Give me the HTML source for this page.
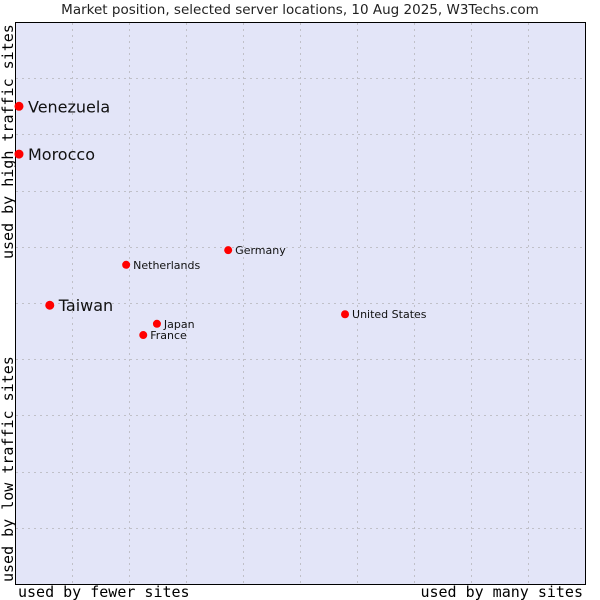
<!DOCTYPE html>
<html><head><meta charset="utf-8"><style>
body{margin:0;background:#fff;}
svg{display:block;}
</style></head><body>
<svg width="600" height="600" xmlns="http://www.w3.org/2000/svg">
<text x="300" y="14" text-anchor="middle" font-family="DejaVu Sans, sans-serif" font-size="13.5" fill="#222">Market position, selected server locations, 10 Aug 2025, W3Techs.com</text>
<rect x="15.5" y="22.5" width="570" height="562" fill="#e3e5f8" stroke="#000"/>
<g id="grid"></g>
<g id="points"></g>
<text x="18" y="597" font-family="DejaVu Sans Mono, monospace" font-size="15" fill="#000">used by fewer sites</text>
<text x="583" y="597" text-anchor="end" font-family="DejaVu Sans Mono, monospace" font-size="15" fill="#000">used by many sites</text>
<text transform="translate(13,582) rotate(-90)" font-family="DejaVu Sans Mono, monospace" font-size="15" fill="#000">used by low traffic sites</text>
<text transform="translate(13,259) rotate(-90)" font-family="DejaVu Sans Mono, monospace" font-size="15" fill="#000">used by high traffic sites</text>
</svg>
<script>
const names=["Venezuela","Morocco","Taiwan","Netherlands","Germany","Japan","France","United States"];
const xVals=[0.7,0.7,6.1,19.5,37.4,24.9,22.5,57.9];
const yVals=[85.0,76.5,49.6,56.8,59.4,46.3,44.3,48.0];
const bigLabel=[true,true,true,false,false,false,false,false];
const gridTicks=[10,20,30,40,50,60,70,80,90];
const NS="http://www.w3.org/2000/svg";
const L=15,T=22,W=570,H=562;
function sx(v){return L+v/100*W;}
function sy(v){return T+H-v/100*H;}
const g=document.getElementById('grid');
gridTicks.forEach(t=>{
 const v=document.createElementNS(NS,'line');
 v.setAttribute('x1',Math.round(sx(t))+0.5);v.setAttribute('x2',Math.round(sx(t))+0.5);
 v.setAttribute('y1',T+1);v.setAttribute('y2',T+H);
 v.setAttribute('stroke','#c0c0c8');v.setAttribute('stroke-dasharray','2,4');
 
 
 g.appendChild(v);
 const h=document.createElementNS(NS,'line');
 h.setAttribute('y1',Math.round(sy(t))+0.5);h.setAttribute('y2',Math.round(sy(t))+0.5);
 h.setAttribute('x1',L+1);h.setAttribute('x2',L+W);
 h.setAttribute('stroke','#c0c0c8');h.setAttribute('stroke-dasharray','2,4');
 
 
 g.appendChild(h);
});
const p=document.getElementById('points');
names.forEach((n,i)=>{
 const x=sx(xVals[i]),y=sy(yVals[i]);
 const c=document.createElementNS(NS,'circle');
 c.setAttribute('cx',x);c.setAttribute('cy',y);c.setAttribute('r',bigLabel[i]?4.5:4);c.setAttribute('fill','#ff0000');
 
 
 p.appendChild(c);
 const t=document.createElementNS(NS,'text');
 t.setAttribute('x',x+(bigLabel[i]?9:7));t.setAttribute('y',y+(bigLabel[i]?6:4));
 t.setAttribute('font-family','DejaVu Sans, sans-serif');t.setAttribute('font-size',bigLabel[i]?16:11);
 t.setAttribute('fill','#111');t.textContent=n;
 
 
 p.appendChild(t);
});
</script>
</body></html>
